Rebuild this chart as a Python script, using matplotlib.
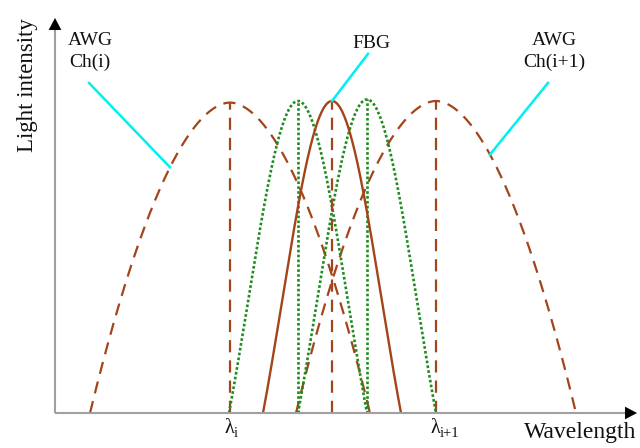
import numpy as np
import matplotlib
matplotlib.use("Agg")
import matplotlib.pyplot as plt

plt.rcParams['font.family'] = ['Liberation Serif', 'DejaVu Serif']

# ---- data (arbitrary wavelength units, normalized intensity) ----
awg_centers = [175, 381]
awg_peaks = [0.995, 1.0]
awg_halfwidth = 140
awg_shape_power = 1.85
fbg_center = 277
fbg_peak = 1.0
fbg_halfwidth = 69
fbg_gauss_width = 70
shift_centers = [243, 312]
shift_peaks = [1.0, 1.005]
awg_labels = ["AWG\nCh(i)", "AWG\nCh(i+1)"]
awg_label_pos = [(35, 1.158), (499, 1.158)]
awg_leader = [(34, 115), (493, 435)]   # (text end x, curve x)
fbg_label_pos = (316, 1.183)
fbg_leader_top = (313, 1.151)
lambda_subs = ["i", "i+1"]

BROWN = '#A3441A'
GREEN = '#1E8C1E'
CYAN = '#00F0F0'
GRAY = '#A0A0A0'

XMAX = 582
YMAX = 395 / 312

fig = plt.figure(figsize=(6.4, 4.48), dpi=100)
ax = fig.add_axes([55 / 640, (448 - 413) / 448, XMAX / 640, 395 / 448])
ax.set_xlim(0, XMAX)
ax.set_ylim(0, YMAX)
ax.axis('off')


def awg_shape(c, h, x):
    return h * (1 - np.abs((x - c) / awg_halfwidth) ** awg_shape_power)


def fbg_shape(c, h, x):
    e = np.exp(-(fbg_halfwidth / fbg_gauss_width) ** 2)
    g = np.exp(-((x - c) / fbg_gauss_width) ** 2)
    return h * (g - e) / (1 - e)


dash_kw = dict(color=BROWN, lw=1.6, dashes=(5.5, 3.6))
dot_kw = dict(color=GREEN, lw=1.9, dashes=(1, 0.85))

# AWG channels
for c, h in zip(awg_centers, awg_peaks):
    x = np.linspace(c - awg_halfwidth, c + awg_halfwidth, 400)
    ax.plot(x, awg_shape(c, h, x), **dash_kw)
    ax.plot([c, c], [0, h], **dash_kw)

# shifted FBG spectra (green dotted)
for c, h in zip(shift_centers, shift_peaks):
    x = np.linspace(c - fbg_halfwidth, c + fbg_halfwidth, 300)
    ax.plot(x, fbg_shape(c, h, x), **dot_kw)
    ax.plot([c, c], [0, h], **dot_kw)

# FBG
x = np.linspace(fbg_center - fbg_halfwidth, fbg_center + fbg_halfwidth, 300)
ax.plot(x, fbg_shape(fbg_center, fbg_peak, x), color=BROWN, lw=1.7)
ax.plot([fbg_center, fbg_center], [0, fbg_peak], **dash_kw)

# axes with arrows
ax.plot([0, XMAX - 10], [0, 0], color=GRAY, lw=1.5, clip_on=False, solid_capstyle='butt')
ax.plot([0, 0], [0, YMAX - 10 / 312], color=GRAY, lw=1.5, clip_on=False, solid_capstyle='butt')
ax.annotate('', xy=(XMAX, 0), xytext=(XMAX - 12, 0),
            arrowprops=dict(arrowstyle='-|>,head_length=0.85,head_width=0.45',
                            color='black', lw=0.1, shrinkA=0, shrinkB=0),
            annotation_clip=False)
ax.annotate('', xy=(0, YMAX), xytext=(0, YMAX - 12 / 312),
            arrowprops=dict(arrowstyle='-|>,head_length=0.85,head_width=0.45',
                            color='black', lw=0.1, shrinkA=0, shrinkB=0),
            annotation_clip=False)

# labels
for lab, (tx, ty), (lx, cx), c, h in zip(awg_labels, awg_label_pos, awg_leader,
                                          awg_centers, awg_peaks):
    ax.text(tx, ty, lab, ha='center', va='center', fontsize=14,
            linespacing=1.35, color='#111111')
    ax.plot([lx, cx], [1.058, awg_shape(c, h, cx)], color=CYAN, lw=1.8)

ax.text(fbg_label_pos[0], fbg_label_pos[1], "FBG", ha='center', va='center',
        fontsize=14, color='#111111')
ax.plot([fbg_leader_top[0], fbg_center], [fbg_leader_top[1], fbg_peak], color=CYAN, lw=1.8)

for sub, c in zip(lambda_subs, awg_centers):
    ax.annotate("λ", xy=(c, 0), xytext=(-4.3, -4), textcoords='offset points',
                ha='left', va='top', fontsize=14.5, color='#111111',
                annotation_clip=False)
    ax.annotate(sub, xy=(c, 0), xytext=(2.6, -10), textcoords='offset points',
                ha='left', va='top', fontsize=10.5, color='#111111',
                annotation_clip=False)

ax.text(469, -0.03, "Wavelength", ha='left', va='top', fontsize=17,
        color='#111111', clip_on=False)
ax.text(-28, 1.05, "Light intensity", ha='center', va='center', rotation=90,
        fontsize=16.5, color='#111111', clip_on=False)

fig.savefig("out.png", dpi=100)
